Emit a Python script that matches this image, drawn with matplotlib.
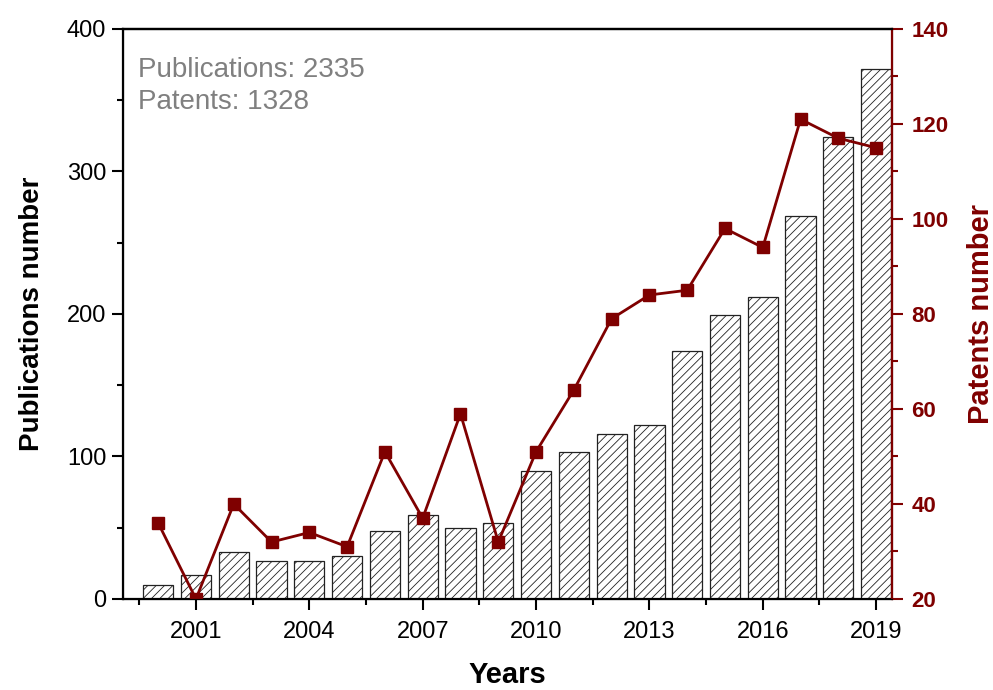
import matplotlib
matplotlib.use("Agg")
import matplotlib.pyplot as plt
from matplotlib.ticker import MultipleLocator

plt.rcParams['font.family'] = ['Liberation Sans', 'DejaVu Sans']
plt.rcParams['hatch.linewidth'] = 0.6
plt.rcParams['hatch.color'] = '#333333'

years = list(range(2000, 2020))
publications = [10, 17, 33, 27, 27, 30, 48, 59, 50, 53,
                90, 103, 116, 122, 174, 199, 212, 269, 324, 372]
patents = [36, 20, 40, 32, 34, 31, 51, 37, 59, 32,
           51, 64, 79, 84, 85, 98, 94, 121, 117, 115]
xtick_years = [2001, 2004, 2007, 2010, 2013, 2016, 2019]

dark_red = '#7f0000'

fig = plt.figure(figsize=(9.93, 6.90), dpi=100)
ax = fig.add_axes([0.1239, 0.1319, 0.7744, 0.8261])

ax.bar(years, publications, width=0.8, color='white', edgecolor='#222222',
       linewidth=0.9, hatch='////')
ax.set_xlim(1999.07, 2019.42)
ax.set_ylim(0, 400)
ax.set_xticks(xtick_years)
ax.xaxis.set_minor_locator(MultipleLocator(1.5))
ax.yaxis.set_minor_locator(MultipleLocator(50))
ax.yaxis.set_major_locator(MultipleLocator(100))
ax.tick_params(axis='both', which='major', direction='out', length=8, width=1.5,
               labelsize=17)
ax.tick_params(axis='both', which='minor', direction='out', length=4, width=1.5)
ax.tick_params(axis='x', pad=8)
ax.tick_params(axis='y', pad=4)
for s in ['left', 'bottom', 'top']:
    ax.spines[s].set_linewidth(1.6)
ax.set_xlabel('Years', fontsize=21, fontweight='bold', labelpad=13)
ax.set_ylabel('Publications number', fontsize=20, fontweight='bold', labelpad=16)

ax.text(0.019, 0.95, 'Publications: 2335\nPatents: 1328', transform=ax.transAxes,
        fontsize=20, color='#808080', va='top', ha='left', linespacing=1.3)

ax2 = ax.twinx()
ax2.plot(years, patents, color=dark_red, linewidth=2, marker='s', markersize=9)
ax2.set_ylim(20, 140)
ax2.yaxis.set_major_locator(MultipleLocator(20))
ax2.yaxis.set_minor_locator(MultipleLocator(10))
ax2.tick_params(axis='y', which='major', direction='out', length=8, width=1.5,
                labelsize=16, colors=dark_red, pad=6)
ax2.tick_params(axis='y', which='minor', direction='out', length=4, width=1.5,
                colors=dark_red)
for lbl in ax2.get_yticklabels():
    lbl.set_fontweight('bold')
ax2.spines['right'].set_color(dark_red)
ax2.spines['right'].set_linewidth(1.6)
ax2.spines['top'].set_linewidth(1.6)
ax2.set_ylabel('Patents number', fontsize=21, fontweight='bold', color=dark_red,
               labelpad=13)

fig.savefig('out.png', dpi=100)
